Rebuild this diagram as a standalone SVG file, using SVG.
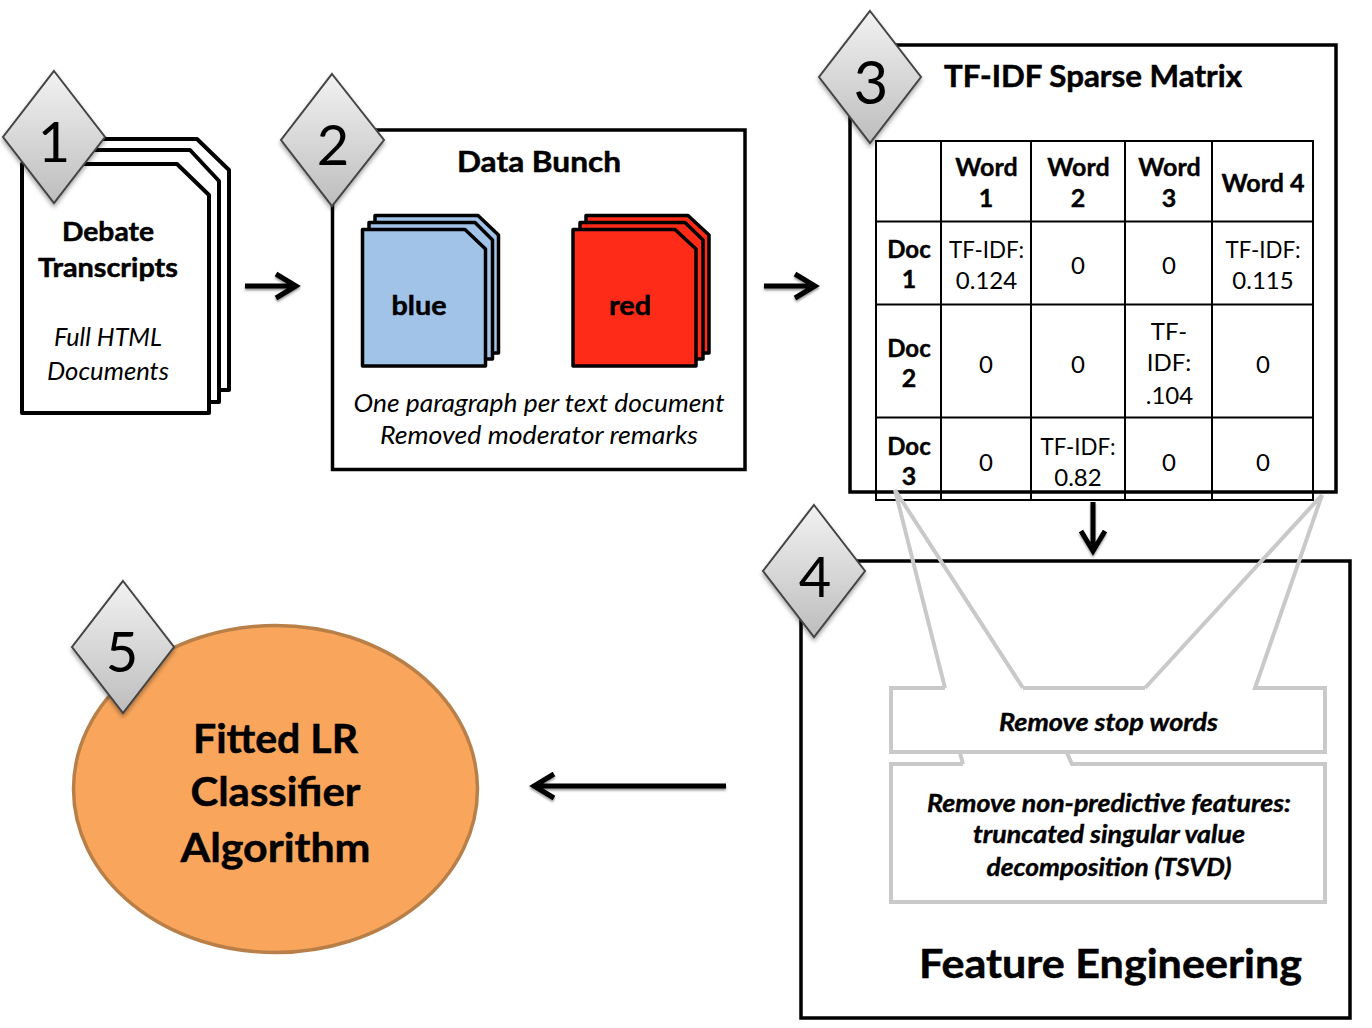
<svg xmlns="http://www.w3.org/2000/svg" width="1372" height="1028" viewBox="0 0 1372 1028">
<style>
text{font-family:Lato,"Open Sans","Liberation Sans",sans-serif;fill:#000;text-anchor:middle}
.b{font-weight:700;stroke:#000;stroke-width:.5}.i{font-style:italic}.bi{font-weight:700;font-style:italic;stroke:#000;stroke-width:.4}
.box{fill:#fff;stroke:#000;stroke-width:3.500}
.doc{fill:#fff;stroke:#000;stroke-width:4;stroke-linejoin:round}
.blue{fill:#A1C3E8}.red{fill:#FE2B18}
.sdoc{stroke:#000;stroke-width:3.500;stroke-linejoin:round}
.dia{fill:url(#dg);stroke:#444;stroke-width:2;filter:url(#sh)}
.num{font-size:56px}
.tl{stroke:#000;stroke-width:2;fill:none}
.th{font-size:25px;font-weight:700;stroke:#000;stroke-width:.4}.dc{font-size:24px}.td{font-size:24px}
.ar{fill:none;stroke:#000;stroke-width:5;filter:url(#as)}
.call{fill:none;stroke:#c9c9c9;stroke-width:4;stroke-linejoin:miter}
.w{fill:#fff;stroke:none}
</style>
<defs>
<linearGradient id="dg" x1="0" y1="0" x2="0" y2="1"><stop offset="0" stop-color="#f2f2f2"/><stop offset="1" stop-color="#bdbdbd"/></linearGradient>
<filter id="sh" x="-20%" y="-20%" width="140%" height="140%"><feDropShadow dx="0" dy="3" stdDeviation="2" flood-color="#000" flood-opacity=".35"/></filter>
<filter id="as" x="-30%" y="-30%" width="160%" height="160%"><feDropShadow dx="0" dy="2" stdDeviation="1.200" flood-color="#000" flood-opacity=".4"/></filter>
</defs>
<rect width="1372" height="1028" fill="#fff"/>

<g id="node-1-docs">
<path class="doc" d="M60 139H197L229 170V390H60Z"/>
<path class="doc" d="M40 150H190L219 181V402H40Z"/>
<path class="doc" d="M22 164H177L209 195V413H22Z"/>
<text class="b" x="108" y="241" font-size="27" textLength="92" lengthAdjust="spacingAndGlyphs">Debate</text>
<text class="b" x="108" y="277" font-size="27" textLength="140" lengthAdjust="spacingAndGlyphs">Transcripts</text>
<text class="i" x="108" y="346" font-size="25" textLength="108" lengthAdjust="spacingAndGlyphs">Full HTML</text>
<text class="i" x="108" y="380" font-size="25" textLength="122" lengthAdjust="spacingAndGlyphs">Documents</text>
</g>

<g id="node-2-box">
<rect class="box" x="332.500" y="130" width="412.500" height="339.500"/>
<text class="b" x="539" y="172" font-size="29" textLength="164" lengthAdjust="spacingAndGlyphs">Data Bunch</text>
<g id="blue-docs">
<path class="sdoc blue" d="M375 215.500H478L498.500 235V353H375Z"/>
<path class="sdoc blue" d="M369 222.500H475L492.500 240V359H369Z"/>
<path class="sdoc blue" d="M362.500 229.500H465L485.500 249V366H362.500Z"/>
<text class="b" x="419" y="315" font-size="27" textLength="55" lengthAdjust="spacingAndGlyphs">blue</text>
</g>
<g id="red-docs">
<path class="sdoc red" d="M586 215.500H688L709 235V353H586Z"/>
<path class="sdoc red" d="M580 222.500H685L703 240V359H580Z"/>
<path class="sdoc red" d="M573 229.500H675L696 249V366H573Z"/>
<text class="b" x="630" y="315" font-size="27" textLength="42" lengthAdjust="spacingAndGlyphs">red</text>
</g>
<text class="i" x="539" y="412" font-size="25" textLength="371" lengthAdjust="spacingAndGlyphs">One paragraph per text document</text>
<text class="i" x="539" y="444" font-size="25" textLength="318" lengthAdjust="spacingAndGlyphs">Removed moderator remarks</text>
</g>

<g id="node-3-matrix">
<rect class="box" x="850" y="45" width="486" height="447"/>
<text class="b" x="1093" y="87" font-size="31" textLength="298" lengthAdjust="spacingAndGlyphs">TF-IDF Sparse Matrix</text>
<g id="table">
<path class="tl" d="M876 141H1313V500H876ZM941 141V500M1031 141V500M1125 141V500M1212 141V500M876 221.500H1313M876 304.500H1313M876 417.500H1313"/>
<text class="th" x="986.500" y="176">Word</text><text class="th" x="986" y="207">1</text>
<text class="th" x="1078.500" y="176">Word</text><text class="th" x="1078" y="207">2</text>
<text class="th" x="1169.500" y="176">Word</text><text class="th" x="1169" y="207">3</text>
<text class="th" x="1263" y="192">Word 4</text>
<text class="th dc" x="909" y="258">Doc</text><text class="th" x="909" y="288">1</text>
<text class="td" x="986.500" y="258" textLength="75" lengthAdjust="spacingAndGlyphs">TF-IDF:</text><text class="td" x="986.500" y="289">0.124</text>
<text class="td" x="1078" y="274">0</text><text class="td" x="1169" y="274">0</text>
<text class="td" x="1263" y="258" textLength="75" lengthAdjust="spacingAndGlyphs">TF-IDF:</text><text class="td" x="1263" y="289">0.115</text>
<text class="th dc" x="909" y="357">Doc</text><text class="th" x="909" y="387">2</text>
<text class="td" x="986" y="373">0</text><text class="td" x="1078" y="373">0</text>
<text class="td" x="1169" y="340">TF-</text><text class="td" x="1169" y="371">IDF:</text><text class="td" x="1169.500" y="404">.104</text>
<text class="td" x="1263" y="373">0</text>
<text class="th dc" x="909" y="455">Doc</text><text class="th" x="909" y="485">3</text>
<text class="td" x="986" y="471">0</text>
<text class="td" x="1078" y="455" textLength="75" lengthAdjust="spacingAndGlyphs">TF-IDF:</text><text class="td" x="1078" y="486">0.82</text>
<text class="td" x="1169" y="471">0</text><text class="td" x="1263" y="471">0</text>
</g>
</g>

<g id="node-4-box">
<rect class="box" x="801" y="561" width="549" height="457"/>
<text class="b" x="1110.500" y="978" font-size="40" textLength="383" lengthAdjust="spacingAndGlyphs">Feature Engineering</text>
</g>

<g id="callout-2">
<rect class="w" x="891" y="764" width="434" height="138"/>
<path class="call" d="M963 764H891V902H1325V764H1072L1067 753M960 753L963 764"/>
<text class="bi" x="1109" y="812" font-size="24" textLength="364" lengthAdjust="spacingAndGlyphs">Remove non-predictive features:</text>
<text class="bi" x="1109" y="843" font-size="24" textLength="272" lengthAdjust="spacingAndGlyphs">truncated singular value</text>
<text class="bi" x="1109" y="876" font-size="24" textLength="245" lengthAdjust="spacingAndGlyphs">decomposition (TSVD)</text>
</g>
<g id="callout-1">
<rect class="w" x="891" y="688" width="434" height="64"/>
<path class="call" d="M945 688L895 490L1023 688M1145 688L1322 495L1255 688H1325V752H891V688H945M1023 688H1145"/>
<text class="bi" x="1108.500" y="731" font-size="24" textLength="219" lengthAdjust="spacingAndGlyphs">Remove stop words</text>
</g>

<g id="node-5-ellipse">
<ellipse cx="275.500" cy="789" rx="202" ry="163.500" fill="#F9A65C" stroke="#B97F49" stroke-width="3.500"/>
<text class="b" x="275.500" y="753" font-size="41" textLength="165" lengthAdjust="spacingAndGlyphs">Fitted LR</text>
<text class="b" x="275.500" y="806" font-size="41" textLength="170" lengthAdjust="spacingAndGlyphs">Classifier</text>
<text class="b" x="275.500" y="862" font-size="41" textLength="190" lengthAdjust="spacingAndGlyphs">Algorithm</text>
</g>

<g id="connectors">
<path class="ar" d="M245 286H295M276 274L296 286L276 298"/>
<path class="ar" d="M764 286H814M795 274L815 286L795 298"/>
<path class="ar" d="M1093 502V550M1081 531L1093 551L1105 531"/>
<path class="ar" d="M726 786H535M554 774L534 786L554 798"/>
</g>

<g id="badge-1"><path class="dia" d="M54 71L105 137L54 203L3 137Z"/><text class="num" x="54" y="162">1</text></g>
<g id="badge-2"><path class="dia" d="M332 74L384 140L332 206L281 140Z"/><text class="num" x="333" y="165">2</text></g>
<g id="badge-3"><path class="dia" d="M870 11L921 77L870 143L819 77Z"/><text class="num" x="871" y="104" style="font-size:60px">3</text></g>
<g id="badge-4"><path class="dia" d="M814 505L865 571L814 637L763 571Z"/><text class="num" x="815" y="597">4</text></g>
<g id="badge-5"><path class="dia" d="M123 581L174 647L123 713L72 647Z"/><text class="num" x="122" y="672">5</text></g>
</svg>
